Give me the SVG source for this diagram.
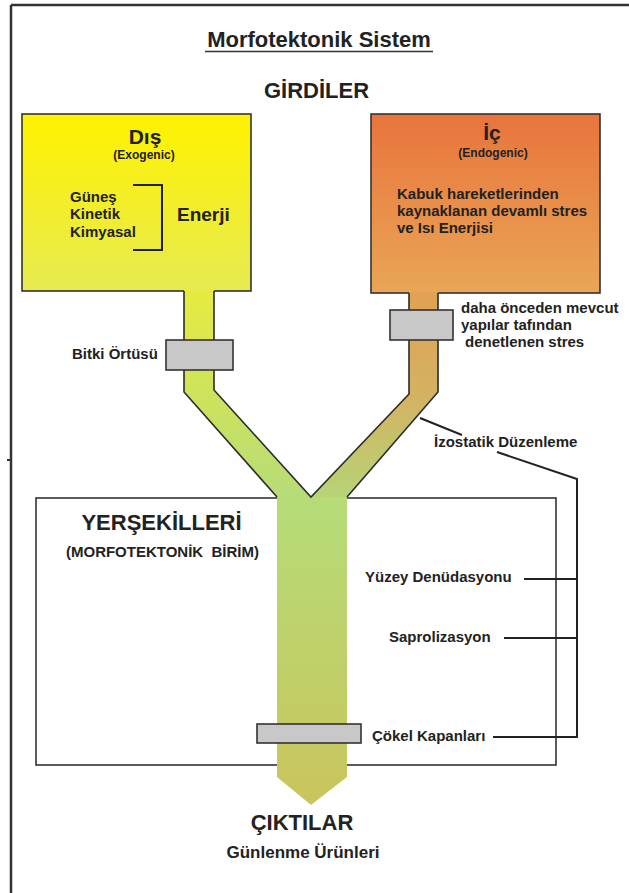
<svg xmlns="http://www.w3.org/2000/svg" width="629" height="893" viewBox="0 0 629 893">
<defs>
<style>
text{font-family:"Liberation Sans",Arial,sans-serif;font-weight:bold;fill:#222}
.c{text-anchor:middle}
.ln{fill:none;stroke:#222;stroke-width:2}
.ol{fill:none;stroke:#2b2b2b;stroke-width:1.6;stroke-linejoin:miter}
.gray{fill:#c8c8c8;stroke:#333;stroke-width:1.6}
.lbl{font-size:15px}
</style>
<linearGradient id="gY" x1="0" y1="114" x2="0" y2="291" gradientUnits="userSpaceOnUse">
<stop offset="0" stop-color="#fff200"/><stop offset="1" stop-color="#e6ea52"/>
</linearGradient>
<linearGradient id="gO" x1="0" y1="114" x2="0" y2="293" gradientUnits="userSpaceOnUse">
<stop offset="0" stop-color="#e8743c"/><stop offset="1" stop-color="#e9a656"/>
</linearGradient>
<linearGradient id="gL" x1="0" y1="290" x2="0" y2="498" gradientUnits="userSpaceOnUse">
<stop offset="0" stop-color="#e6eb40"/><stop offset="1" stop-color="#b6db78"/>
</linearGradient>
<linearGradient id="gR" x1="0" y1="292" x2="0" y2="498" gradientUnits="userSpaceOnUse">
<stop offset="0" stop-color="#e2a052"/><stop offset="0.5" stop-color="#d4b262"/><stop offset="1" stop-color="#b7d476"/>
</linearGradient>
<linearGradient id="gT" x1="0" y1="497" x2="0" y2="805" gradientUnits="userSpaceOnUse">
<stop offset="0" stop-color="#b5dc78"/><stop offset="1" stop-color="#c9c55c"/>
</linearGradient>
</defs>
<rect width="629" height="893" fill="#fff"/>
<g id="frame">
<path d="M11 5 H629 M11 5 V893" fill="none" stroke="#333" stroke-width="2.5"/>
<line x1="7" y1="460" x2="12" y2="460" stroke="#333" stroke-width="2"/>
</g>
<g id="title">
<text class="c" x="319" y="47" font-size="22">Morfotektonik Sistem</text>
<line x1="205" y1="51.5" x2="433" y2="51.5" stroke="#333" stroke-width="1.6"/>
<text class="c" x="316.5" y="98" font-size="22">GİRDİLER</text>
</g>
<g id="landforms">
<rect x="36" y="498" width="520" height="267" fill="#fff" stroke="#333" stroke-width="1.6"/>
<text class="c" x="161.5" y="530" font-size="22">YERŞEKİLLERİ</text>
<text class="c" x="162.5" y="557" font-size="15" style="white-space:pre">(MORFOTEKTONİK  BİRİM)</text>
</g>
<g id="exogenic">
<rect x="22" y="114" width="229" height="177" fill="url(#gY)" stroke="#333" stroke-width="1.6"/>
<text class="c" x="145" y="144" font-size="21">Dış</text>
<text class="c" x="144" y="159" font-size="12">(Exogenic)</text>
<text x="70" y="202" class="lbl">Güneş</text>
<text x="70" y="219" class="lbl">Kinetik</text>
<text x="70" y="237" class="lbl">Kimyasal</text>
<path class="ln" d="M133 185 H162 V250 H133"/>
<text x="177" y="221" font-size="19">Enerji</text>
</g>
<g id="endogenic">
<rect x="371" y="114" width="229" height="179" fill="url(#gO)" stroke="#333" stroke-width="1.6"/>
<text class="c" x="492" y="140" font-size="21">İç</text>
<text class="c" x="493" y="157" font-size="12">(Endogenic)</text>
<text x="397" y="199" class="lbl">Kabuk hareketlerinden</text>
<text x="397" y="216" class="lbl">kaynaklanan devamlı stres</text>
<text x="397" y="233" class="lbl">ve Isı Enerjisi</text>
</g>
<g id="flow">
<polygon points="184,290 214,290 214,390 311,497 277,497 184,392" fill="url(#gL)"/>
<polygon points="409,292 438,292 438,392 347,497 311,497 409,394" fill="url(#gR)"/>
<polygon points="277,497 347,497 347,777 311,805 277,777" fill="url(#gT)"/>
<polyline class="ol" points="184,291 184,392 277,497"/>
<polyline class="ol" points="214,291 214,390 311,497 409,394 409,293"/>
<polyline class="ol" points="438,293 438,392 347,497"/>
</g>
<g id="filters">
<rect id="bitki" class="gray" x="166" y="340" width="67" height="30"/>
<rect id="denetim" class="gray" x="390" y="310" width="63" height="30"/>
<rect id="cokel" class="gray" x="257" y="724" width="104" height="19"/>
</g>
<g id="labels">
<text x="72" y="359" class="lbl">Bitki Örtüsü</text>
<text x="461" y="313" class="lbl">daha önceden mevcut</text>
<text x="461" y="330" class="lbl">yapılar tafından</text>
<text x="465" y="347" class="lbl">denetlenen stres</text>
<text x="434" y="447" class="lbl">İzostatik Düzenleme</text>
<text x="365" y="582" class="lbl">Yüzey Denüdasyonu</text>
<text x="389" y="642" class="lbl">Saprolizasyon</text>
<text x="372" y="741" class="lbl">Çökel Kapanları</text>
</g>
<g id="connectors">
<line class="ln" x1="420" y1="418" x2="462" y2="435"/>
<polyline class="ln" points="497,452 577,479 577,737 493,737"/>
<line class="ln" x1="524" y1="579" x2="577" y2="579"/>
<line class="ln" x1="504" y1="638" x2="577" y2="638"/>
</g>
<g id="outputs">
<text class="c" x="302" y="830" font-size="22">ÇIKTILAR</text>
<text class="c" x="303" y="858" font-size="17">Günlenme Ürünleri</text>
</g>
</svg>
